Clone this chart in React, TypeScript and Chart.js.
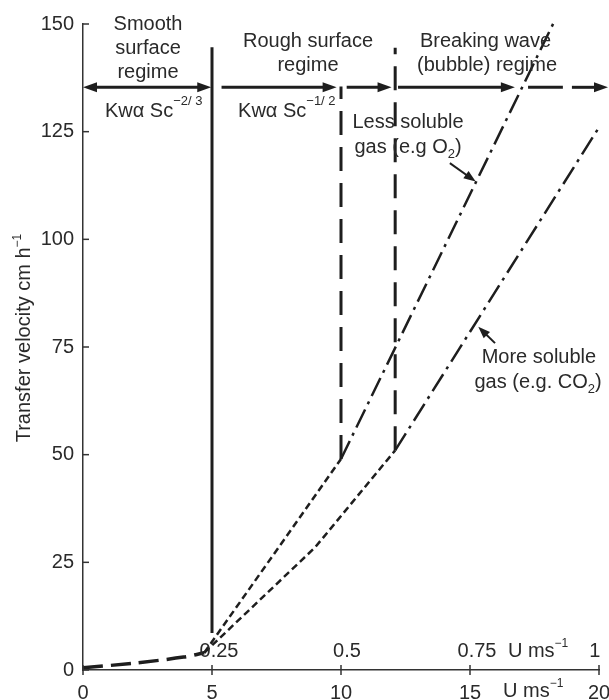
import React, { useEffect, useRef } from 'react';
import { Chart, registerables } from 'chart.js';

Chart.register(...registerables);

const FONT = '"Liberation Sans", Arial, Helvetica, sans-serif';
const INK = '#1e1e1e';
const TEXT = '#2a2a2a';
const AXIS = '#333333';

// Axis ticks
const xTicks = [0, 5, 10, 15, 20];
const yTicks = [0, 25, 50, 75, 100, 125, 150];

// Secondary (inside) scale labels along bottom
const secondaryTickLabels = ['0.25', '0.5', '0.75', '1'];
const secondaryTickPositions = [5.27, 10.23, 15.27, 19.84];

// Series (U in m/s, transfer velocity in cm/h)
const smoothRegimeCurve = [
  { x: 0, y: 0.5 },
  { x: 2, y: 1.6 },
  { x: 3.9, y: 3.0 },
  { x: 4.7, y: 4.0 },
];
const lessSolubleRough = [
  { x: 4.7, y: 4 },
  { x: 10, y: 49 },
];
const moreSolubleRough = [
  { x: 4.7, y: 4 },
  { x: 9, y: 28.5 },
  { x: 12.1, y: 51 },
];
const lessSolubleBreaking = [
  { x: 10, y: 49 },
  { x: 18.3, y: 151 },
];
const moreSolubleBreaking = [
  { x: 12.1, y: 51 },
  { x: 20, y: 126 },
];
const smoothBoundary = [
  { x: 5, y: 8.6 },
  { x: 5, y: 144.6 },
];
const lessSolubleBoundary = [
  { x: 10, y: 49 },
  { x: 10, y: 135.5 },
];
const moreSolubleBoundary = [
  { x: 12.1, y: 51 },
  { x: 12.1, y: 144.5 },
];

// Regime arrows (data units)
const regimeArrowY = 135.3;
const regimeArrows = [
  { from: 0, to: 4.97, both: true },
  { from: 5.37, to: 9.83, both: false },
  { from: 10.22, to: 11.96, both: false },
  { from: 12.21, to: 16.74, both: false },
];
const regimeTailDashes = [
  { from: 17.25, to: 18.6, head: false },
  { from: 18.95, to: 20.35, head: true },
];

const lessSolublePointer = { from: { x: 14.22, y: 117.7 }, to: { x: 15.22, y: 113.4 } };
const moreSolublePointer = { from: { x: 15.97, y: 75.9 }, to: { x: 15.32, y: 79.7 } };

type Part = { t: string; s?: 'sup' | 'sub' };
type Label = { parts: Part[]; x: number; y: number; align: 'left' | 'center' | 'right'; supSize?: number; supRaise?: number };

const annotations: Label[] = [
  { parts: [{ t: 'Smooth' }], x: 2.52, y: 148.6, align: 'center' },
  { parts: [{ t: 'surface' }], x: 2.52, y: 143.0, align: 'center' },
  { parts: [{ t: 'regime' }], x: 2.52, y: 137.4, align: 'center' },
  { parts: [{ t: 'Kw\u03b1 Sc' }, { t: '\u22122/ 3', s: 'sup' }], x: 0.85, y: 128.4, align: 'left' },
  { parts: [{ t: 'Rough surface' }], x: 8.72, y: 144.6, align: 'center' },
  { parts: [{ t: 'regime' }], x: 8.72, y: 139.1, align: 'center' },
  { parts: [{ t: 'Kw\u03b1 Sc' }, { t: '\u22121/ 2', s: 'sup' }], x: 6.01, y: 128.4, align: 'left' },
  { parts: [{ t: 'Breaking wave' }], x: 15.6, y: 144.6, align: 'center' },
  { parts: [{ t: '(bubble) regime' }], x: 15.66, y: 139.1, align: 'center' },
  { parts: [{ t: 'Less soluble' }], x: 12.6, y: 125.8, align: 'center' },
  { parts: [{ t: 'gas (e.g O' }, { t: '2', s: 'sub' }, { t: ')' }], x: 12.6, y: 120.0, align: 'center' },
  { parts: [{ t: 'More soluble' }], x: 17.67, y: 71.3, align: 'center' },
  { parts: [{ t: 'gas (e.g. CO' }, { t: '2', s: 'sub' }, { t: ')' }], x: 17.64, y: 65.5, align: 'center' },
  { parts: [{ t: 'U ms' }, { t: '\u22121', s: 'sup' }], x: 16.47, y: 3.0, align: 'left', supSize: 12, supRaise: 10 },
  { parts: [{ t: 'U ms' }, { t: '\u22121', s: 'sup' }], x: 16.28, y: -6.3, align: 'left', supSize: 12, supRaise: 10 },
];

const yTitle: Part[] = [{ t: 'Transfer velocity cm h' }, { t: '\u22121', s: 'sup' }];

function drawRich(
  ctx: CanvasRenderingContext2D,
  parts: Part[],
  x: number,
  y: number,
  align: 'left' | 'center' | 'right',
  size = 20,
  supSize = 13,
  supRaise = 12
) {
  const fontFor = (p: Part) => `${p.s ? supSize : size}px ${FONT}`;
  let total = 0;
  const widths = parts.map((p) => {
    ctx.font = fontFor(p);
    const w = ctx.measureText(p.t).width;
    total += w;
    return w;
  });
  let cx = align === 'left' ? x : align === 'center' ? x - total / 2 : x - total;
  ctx.textAlign = 'left';
  ctx.textBaseline = 'alphabetic';
  parts.forEach((p, i) => {
    ctx.font = fontFor(p);
    const dy = p.s === 'sup' ? -supRaise : p.s === 'sub' ? 5 : 0;
    ctx.fillText(p.t, cx, y + dy);
    cx += widths[i];
  });
}

function arrowHead(ctx: CanvasRenderingContext2D, tx: number, ty: number, ang: number, len = 14, half = 5) {
  ctx.beginPath();
  ctx.moveTo(tx, ty);
  ctx.lineTo(tx - len * Math.cos(ang) + half * Math.sin(ang), ty - len * Math.sin(ang) - half * Math.cos(ang));
  ctx.lineTo(tx - len * Math.cos(ang) - half * Math.sin(ang), ty - len * Math.sin(ang) + half * Math.cos(ang));
  ctx.closePath();
  ctx.fill();
}

const overlay = {
  id: 'overlay',
  afterDraw(chart: any) {
    const { ctx, chartArea, scales } = chart;
    const X = (v: number) => scales.x.getPixelForValue(v);
    const Y = (v: number) => scales.y.getPixelForValue(v);
    ctx.save();

    // tick marks
    ctx.strokeStyle = AXIS;
    ctx.lineWidth = 1.5;
    ctx.setLineDash([]);
    yTicks.forEach((v) => {
      ctx.beginPath();
      ctx.moveTo(chartArea.left, Y(v));
      ctx.lineTo(chartArea.left + 6, Y(v));
      ctx.stroke();
    });
    xTicks.forEach((v) => {
      ctx.beginPath();
      ctx.moveTo(X(v), chartArea.bottom - 5);
      ctx.lineTo(X(v), chartArea.bottom + 5);
      ctx.stroke();
    });

    // regime arrows
    ctx.strokeStyle = INK;
    ctx.fillStyle = INK;
    ctx.lineWidth = 3;
    const ay = Y(regimeArrowY);
    const HL = 14;
    regimeArrows.forEach((a) => {
      const x0 = X(a.from);
      const x1 = X(a.to);
      ctx.beginPath();
      ctx.moveTo(a.both ? x0 + HL - 2 : x0, ay);
      ctx.lineTo(x1 - HL + 2, ay);
      ctx.stroke();
      arrowHead(ctx, x1, ay, 0, HL, 5);
      if (a.both) arrowHead(ctx, x0, ay, Math.PI, HL, 5);
    });
    regimeTailDashes.forEach((d) => {
      const x0 = X(d.from);
      const x1 = X(d.to);
      ctx.beginPath();
      ctx.moveTo(x0, ay);
      ctx.lineTo(d.head ? x1 - HL + 2 : x1, ay);
      ctx.stroke();
      if (d.head) arrowHead(ctx, x1, ay, 0, HL, 5);
    });

    // pointer arrows
    ctx.lineWidth = 2;
    [lessSolublePointer, moreSolublePointer].forEach((p) => {
      const fx = X(p.from.x), fy = Y(p.from.y), tx = X(p.to.x), ty = Y(p.to.y);
      const ang = Math.atan2(ty - fy, tx - fx);
      ctx.beginPath();
      ctx.moveTo(fx, fy);
      ctx.lineTo(tx - 10 * Math.cos(ang), ty - 10 * Math.sin(ang));
      ctx.stroke();
      arrowHead(ctx, tx, ty, ang, 12, 4.5);
    });

    // texts
    ctx.fillStyle = TEXT;
    annotations.forEach((a) => {
      drawRich(ctx, a.parts, X(a.x), Y(a.y), a.align, 20, a.supSize ?? 13, a.supRaise ?? 12);
    });
    secondaryTickLabels.forEach((t, i) => {
      drawRich(ctx, [{ t }], X(secondaryTickPositions[i]), Y(3.0), 'center', 20);
    });

    // y title (rotated)
    ctx.save();
    ctx.translate(29.5, (chartArea.top + chartArea.bottom) / 2 - 9);
    ctx.rotate(-Math.PI / 2);
    drawRich(ctx, yTitle, 0, 0, 'center', 20, 12, 9);
    ctx.restore();

    ctx.restore();
  },
};

function lineDs(data: { x: number; y: number }[], width: number, dash: number[], extra: any = {}) {
  return {
    data,
    showLine: true,
    borderColor: INK,
    backgroundColor: INK,
    borderWidth: width,
    borderDash: dash,
    pointRadius: 0,
    pointHoverRadius: 0,
    fill: false,
    tension: 0,
    ...extra,
  };
}

export default function App() {
  const ref = useRef<HTMLCanvasElement | null>(null);
  useEffect(() => {
    if (!ref.current) return;
    const chart = new Chart(ref.current, {
      type: 'scatter',
      data: {
        datasets: [
          lineDs(smoothRegimeCurve, 3.5, [20, 8], { tension: 0.3 }),
          lineDs(lessSolubleRough, 2.5, [7, 4]),
          lineDs(moreSolubleRough, 2.5, [7, 4]),
          lineDs(lessSolubleBreaking, 2.5, [20, 6, 3, 6], { clip: false }),
          lineDs(moreSolubleBreaking, 2.5, [20, 6, 3, 6]),
          lineDs(smoothBoundary, 3, []),
          lineDs(lessSolubleBoundary, 3, [24, 12]),
          lineDs(moreSolubleBoundary, 3, [24, 12]),
        ] as any,
      },
      options: {
        animation: false,
        responsive: false,
        events: [],
        layout: { padding: { top: 24, right: 10, left: 0, bottom: 0 } },
        plugins: { legend: { display: false }, tooltip: { enabled: false } },
        scales: {
          x: {
            type: 'linear',
            min: 0,
            max: 20,
            afterBuildTicks: (s: any) => {
              s.ticks = xTicks.map((v) => ({ value: v }));
            },
            afterFit: (s: any) => {
              s.height = 30;
              s.paddingLeft = 0;
              s.paddingRight = 0;
            },
            grid: { display: false },
            border: { display: true, color: AXIS, width: 1.5 },
            ticks: { font: { family: FONT, size: 20 }, color: TEXT, padding: 3, maxRotation: 0, autoSkip: false },
          },
          y: {
            type: 'linear',
            min: 0,
            max: 150,
            afterBuildTicks: (s: any) => {
              s.ticks = yTicks.map((v) => ({ value: v }));
            },
            afterFit: (s: any) => {
              s.width = 83;
              s.paddingTop = 0;
              s.paddingBottom = 0;
            },
            grid: { display: false },
            border: { display: true, color: AXIS, width: 1.5 },
            ticks: { font: { family: FONT, size: 20 }, color: TEXT, padding: 1, autoSkip: false },
          },
        },
      } as any,
      plugins: [overlay],
    });
    return () => chart.destroy();
  }, []);
  return (
    <canvas
      ref={ref}
      width={609}
      height={700}
      style={{ position: 'fixed', left: 0, top: 0, width: 609, height: 700 }}
    />
  );
}
